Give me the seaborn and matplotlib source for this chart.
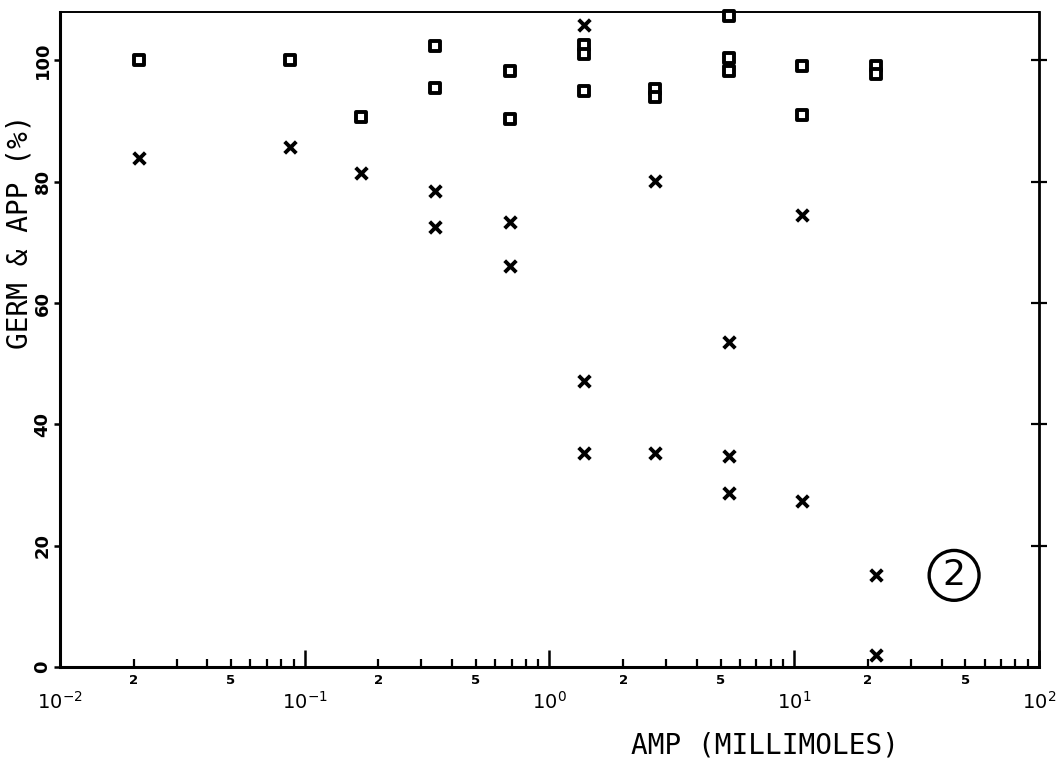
import numpy as np
import pandas as pd
import matplotlib
matplotlib.use("Agg")
import matplotlib.pyplot as plt
from matplotlib.ticker import LogLocator, FuncFormatter, NullFormatter
import seaborn as sns

# AMP concentration (millimoles) and response (%)
sq_amp = [0.021, 0.087, 0.17, 0.34, 0.34, 0.69, 0.69, 1.38, 1.38, 1.38,
          2.7, 2.7, 5.4, 5.4, 5.4, 10.8, 10.8, 21.6, 21.6]
sq_pct = [100, 100, 90.6, 102.4, 95.5, 98.3, 90.4, 102.6, 101, 95,
          95.2, 93.9, 107.3, 100.4, 98.2, 99.1, 91, 99.1, 97.8]

x_amp = [0.021, 0.087, 0.17, 0.34, 0.34, 0.69, 0.69, 1.38, 2.7, 10.8,
         5.4, 1.38, 1.38, 2.7, 5.4, 5.4, 10.8, 21.6, 21.6]
x_pct = [83.9, 85.8, 81.4, 78.5, 72.5, 73.4, 66.1, 105.9, 80.1, 74.5,
         53.5, 47.2, 35.2, 35.2, 34.8, 28.7, 27.4, 15.2, 2.0]

y_ticks = [0, 20, 40, 60, 80, 100]
x_major = [1e-2, 1e-1, 1e0, 1e1, 1e2]
x_major_labels = ["10$^{-2}$", "10$^{-1}$", "10$^{0}$", "10$^{1}$", "10$^{2}$"]

sns.set_style("ticks")
plt.rcParams['font.family'] = ['DejaVu Sans']
plt.rcParams['mathtext.fontset'] = 'dejavusans'
for k in ["text.color", "axes.labelcolor", "xtick.color", "ytick.color",
          "axes.edgecolor"]:
    plt.rcParams[k] = "black"

fig = plt.figure(figsize=(10.63, 7.6), dpi=100)
ax = fig.add_axes([0.0564, 0.1224, 0.921, 0.862])

sq = pd.DataFrame({"amp": sq_amp, "pct": sq_pct})
xx = pd.DataFrame({"amp": x_amp, "pct": x_pct})

sns.scatterplot(data=sq, x="amp", y="pct", marker="s", s=62, facecolor="white",
                edgecolor="black", linewidth=2.8, ax=ax, clip_on=False, zorder=3)
sns.scatterplot(data=xx, x="amp", y="pct", marker="x", s=70, color="black",
                linewidth=2.8, ax=ax, clip_on=False, zorder=3)

ax.set_xscale("log")
ax.set_xlim(1e-2, 1e2)
ax.set_ylim(0, 108)

# x axis: inward ticks, "2" and "5" labels on minor ticks
ax.set_xticks(x_major)
ax.set_xticklabels(x_major_labels)
ax.xaxis.set_minor_locator(LogLocator(base=10, subs=np.arange(2, 10), numticks=20))

def minor_fmt(v, pos):
    m = round(v / 10 ** np.floor(np.log10(v) + 1e-9))
    return str(m) if m in (2, 5) else ""

ax.xaxis.set_minor_formatter(FuncFormatter(minor_fmt))
ax.tick_params(axis="x", which="major", direction="in", length=12, width=1.8,
               pad=17, labelsize=14)
ax.tick_params(axis="x", which="minor", direction="in", length=5.5, width=1.6,
               pad=5, labelsize=9.5)
for t in ax.xaxis.get_minor_ticks():
    t.label1.set_fontweight("bold")

# y axis
ax.set_yticks(y_ticks)
ax.set_yticklabels([str(v) for v in y_ticks], rotation=90, va="center")
ax.tick_params(axis="y", which="major", direction="out", length=4, width=1.8,
               labelsize=13, pad=2)
ax.tick_params(axis="y", which="minor", left=False)
for t in ax.get_yticklabels():
    t.set_fontweight("bold")

ax2 = ax.twinx()
ax2.set_ylim(ax.get_ylim())
ax2.set_yticks(y_ticks[1:])
ax2.yaxis.set_major_formatter(NullFormatter())
ax2.tick_params(axis="y", direction="inout", length=12, width=1.6)
for side in ["left", "top", "bottom"]:
    ax2.spines[side].set_visible(False)
ax2.spines["right"].set_linewidth(2.0)

for side in ["left", "bottom"]:
    ax.spines[side].set_linewidth(2.2)
ax.spines["top"].set_visible(True)
ax.spines["top"].set_linewidth(1.4)
ax.spines["right"].set_visible(False)

ax.set_xlabel("AMP (MILLIMOLES)", fontsize=20, family="DejaVu Sans Mono",
              va="center")
ax.xaxis.set_label_coords(0.72, -0.12)
ax.set_ylabel("GERM & APP (%)", fontsize=20, family="DejaVu Sans Mono",
              va="center")
ax.yaxis.set_label_coords(-0.041, 0.664)

ax.text(45, 15.1, "2", fontsize=26, ha="center", va="center",
        bbox=dict(boxstyle="circle,pad=0.22", facecolor="none",
                  edgecolor="black", linewidth=2.4))

fig.savefig("out.png", dpi=100)
